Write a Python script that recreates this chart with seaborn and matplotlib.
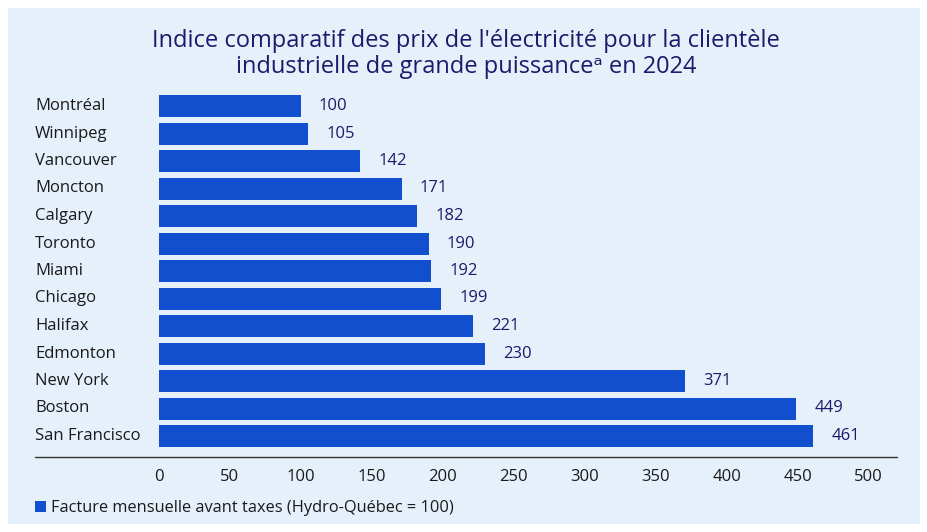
import matplotlib
matplotlib.use("Agg")
import matplotlib.pyplot as plt
from matplotlib.patches import Rectangle, Patch
from matplotlib.lines import Line2D
import matplotlib.transforms as mtransforms
import seaborn as sns
import pandas as pd

# données
villes = ["Montréal", "Winnipeg", "Vancouver", "Moncton", "Calgary", "Toronto",
          "Miami", "Chicago", "Halifax", "Edmonton", "New York", "Boston",
          "San Francisco"]
indices = [100, 105, 142, 171, 182, 190, 192, 199, 221, 230, 371, 449, 461]
ticks_x = [0, 50, 100, 150, 200, 250, 300, 350, 400, 450, 500]

titre = "Indice comparatif des prix de l'électricité pour la clientèle\nindustrielle de grande puissance\u1d43 en 2024"
legende = "Facture mensuelle avant taxes (Hydro-Québec = 100)"

df = pd.DataFrame({"ville": villes, "indice": indices})

# couleurs
bleu = "#124fce"
marine = "#1c1a6b"
fond = "#e6f0fb"

sns.set_style("white")
plt.rcParams["font.family"] = ["Open Sans", "DejaVu Sans"]

W, H = 928, 532
fig = plt.figure(figsize=(W / 100, H / 100), dpi=100)
fig.patch.set_facecolor("white")

# panneau bleu clair
fig.add_artist(Rectangle((8 / W, 8 / H), (920 - 8) / W, (524 - 8) / H,
                         transform=fig.transFigure, facecolor=fond,
                         edgecolor="none", zorder=-10))

left, right = 159 / W, (159 + 510 * 1.419) / W
top, bottom = 1 - 92.25 / H, 1 - 449.75 / H
ax = fig.add_axes([left, bottom, right - left, top - bottom])
ax.set_facecolor("none")

sns.barplot(data=df, x="indice", y="ville", orient="h", color=bleu,
            saturation=1, width=0.8, linewidth=0, ax=ax)

ax.set_xlim(0, 510)
ax.set_ylim(len(villes) - 0.5, -0.5)
ax.set_xticks(ticks_x)
ax.set_xticklabels([str(t) for t in ticks_x], fontsize=12, color="#1a1a1a")
ax.tick_params(axis="x", length=0, pad=14)
ax.set_yticks([])
ax.set_xlabel("")
ax.set_ylabel("")
for s in ax.spines.values():
    s.set_visible(False)

# étiquettes des villes
trans = mtransforms.blended_transform_factory(fig.transFigure, ax.transData)
for i, v in enumerate(villes):
    ax.text(35 / W, i, v, transform=trans, ha="left", va="center",
            fontsize=12, color="#1a1a1a")

# valeurs au bout des barres
for i, val in enumerate(indices):
    ax.annotate(str(val), (val, i), xytext=(13, 0), textcoords="offset points",
                ha="left", va="center", fontsize=12, color=marine)

# ligne de l'axe
fig.add_artist(Line2D([35 / W, 897 / W], [1 - 457 / H, 1 - 457 / H],
                      transform=fig.transFigure, color="#333333", lw=1))

# titre
fig.text(466 / W, 1 - 54 / H, titre, ha="center", va="center",
         fontsize=17, color=marine, linespacing=1.15)

# légende
fig.legend(handles=[Patch(facecolor=bleu, edgecolor="none")], labels=[legende],
           loc="center left", bbox_to_anchor=(35 / W, 1 - 508 / H),
           frameon=False, fontsize=11.8, handlelength=0.7, handleheight=0.7,
           handletextpad=0.3, borderpad=0, borderaxespad=0,
           labelcolor="#1a1a1a")

fig.savefig("out.png", dpi=100, facecolor="white")
